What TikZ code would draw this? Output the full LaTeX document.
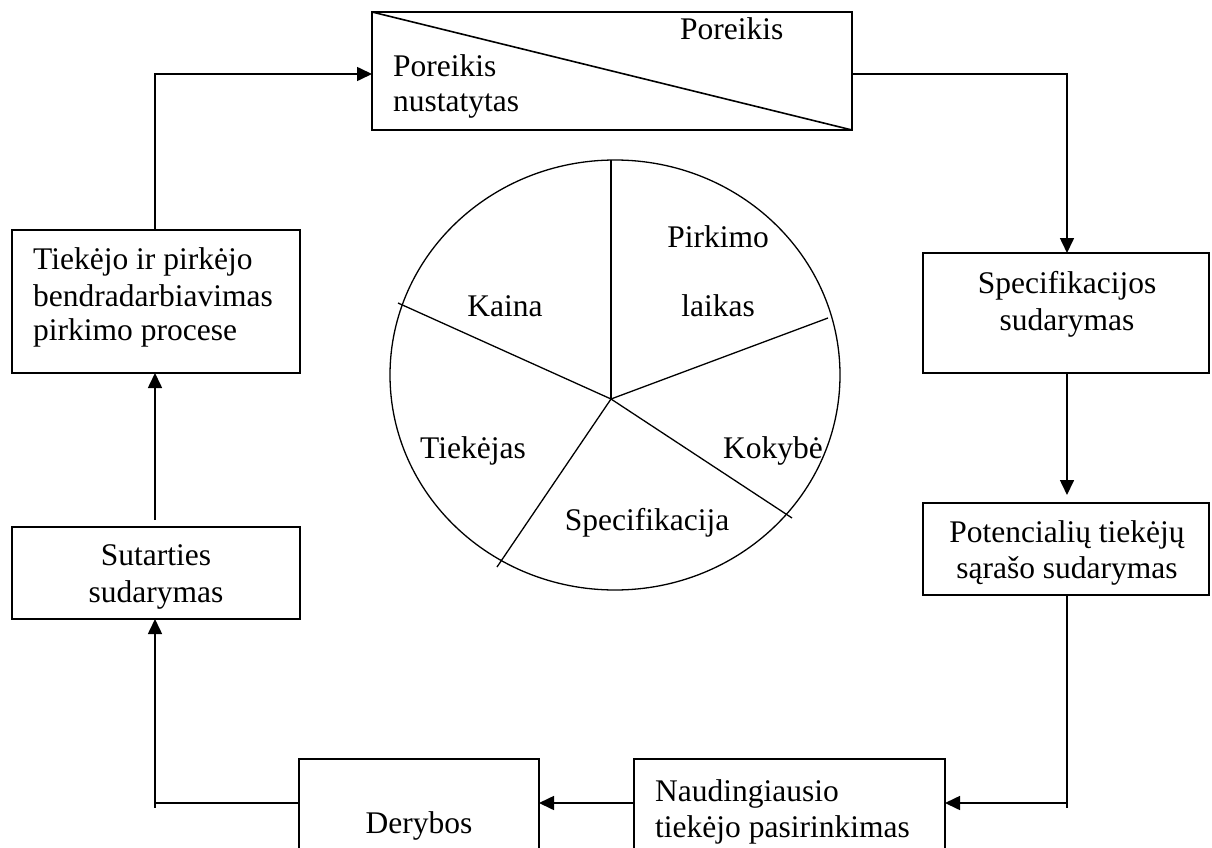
\documentclass[tikz,border=0pt]{standalone}
\usepackage{fontspec}
\setmainfont{Liberation Serif}
\usetikzlibrary{arrows.meta}
\begin{document}
\begin{tikzpicture}[x=1pt,y=-1pt,
  box/.style={draw, line width=1.6pt, inner sep=0pt, outer sep=0pt},
  txt/.style={inner sep=0pt, font=\fontsize{31.5}{36}\selectfont},
  conn/.style={line width=1.6pt},
  arr/.style={conn, -{Triangle[length=15pt,width=14pt]}},
  pie/.style={line width=1.3pt}]
\useasboundingbox (0,0) rectangle (1212,848);
\clip (0,0) rectangle (1212,848);

% boxes
\node[box, minimum width=480pt, minimum height=118pt] (T) at (612,71) {};
\node[box, minimum width=288pt, minimum height=143pt] (L1) at (156,301.5) {};
\node[box, minimum width=288pt, minimum height=92pt] (L2) at (156,573) {};
\node[box, minimum width=240pt, minimum height=141pt] (D) at (419,829.5) {};
\node[box, minimum width=311pt, minimum height=141pt] (N) at (789.5,829.5) {};
\node[box, minimum width=286pt, minimum height=120pt] (S) at (1066,313) {};
\node[box, minimum width=286pt, minimum height=92pt] (P) at (1066,549) {};

% diagonal in top box
\draw[line width=1.6pt] (T.north west) -- (T.south east);

% texts
\node[txt, anchor=base west] (t1) at (680,40) {Poreikis};
\node[txt, anchor=base west] (t2) at (393,77) {Poreikis};
\node[txt, anchor=base west] (t3) at (393,112) {nustatytas};

\node[txt, anchor=base west] (l1a) at (33,269) {Tiekėjo ir pirkėjo};
\node[txt, anchor=base west] (l1b) at (33,306) {bendradarbiavimas};
\node[txt, anchor=base west] (l1c) at (33,340) {pirkimo procese};

\node[txt, anchor=base] (l2a) at (156,565) {Sutarties};
\node[txt, anchor=base] (l2b) at (156,602) {sudarymas};

\node[txt, anchor=base] (da) at (419,833) {Derybos};

\node[txt, anchor=base west] (na) at (655,801) {Naudingiausio};
\node[txt, anchor=base west] (nb) at (655,837) {tiekėjo pasirinkimas};

\node[txt, anchor=base] (sa) at (1067,293) {Specifikacijos};
\node[txt, anchor=base] (sb) at (1067,330) {sudarymas};

\node[txt, anchor=base] (pa) at (1067,542) {Potencialių tiekėjų};
\node[txt, anchor=base] (pb) at (1067,578) {sąrašo sudarymas};

% connectors
\coordinate (k1) at (155,74);
\draw[arr] (k1 |- L1.north) -- (k1) -- (k1 -| T.west);
\coordinate (k2) at (1067,74);
\draw[arr] (k2 -| T.east) -- (k2) -- (k2 |- S.north);
\coordinate (k3) at (1067,0);
\draw[arr, shorten >=8pt] (k3 |- S.south) -- (k3 |- P.north);
\coordinate (k4) at (1067,803);
\draw[arr] (k4 |- P.south) -- (k4) -- (k4 -| N.east);
\draw[conn] (k4) -- ++(0,5);
\draw[arr] (k4 -| N.west) -- (k4 -| D.east);
\coordinate (k5) at (155,803);
\draw[arr] (k5 -| D.west) -- (k5) -- (k5 |- L2.south);
\draw[conn] (k5) -- ++(0,5);
\draw[arr, shorten <=7pt] (k5 |- L2.north) -- (k5 |- L1.south);

% pie
\coordinate (pc) at (611,399);
\draw[pie] (615,375) ellipse [x radius=225pt, y radius=215pt];
\draw[pie] (pc) -- (611,160);
\draw[pie] (pc) -- (828,318);
\draw[pie] (pc) -- (792,518);
\draw[pie] (pc) -- (497,567);
\draw[pie] (pc) -- (398,303);

\node[txt, anchor=base] (c1) at (718,247) {Pirkimo};
\node[txt, anchor=base] (c2) at (718,316) {laikas};
\node[txt, anchor=base] (c3) at (505,316) {Kaina};
\node[txt, anchor=base] (c4) at (473,458) {Tiekėjas};
\node[txt, anchor=base] (c5) at (773,458) {Kokybė};
\node[txt, anchor=base] (c6) at (647,530) {Specifikacija};
\end{tikzpicture}
\end{document}
